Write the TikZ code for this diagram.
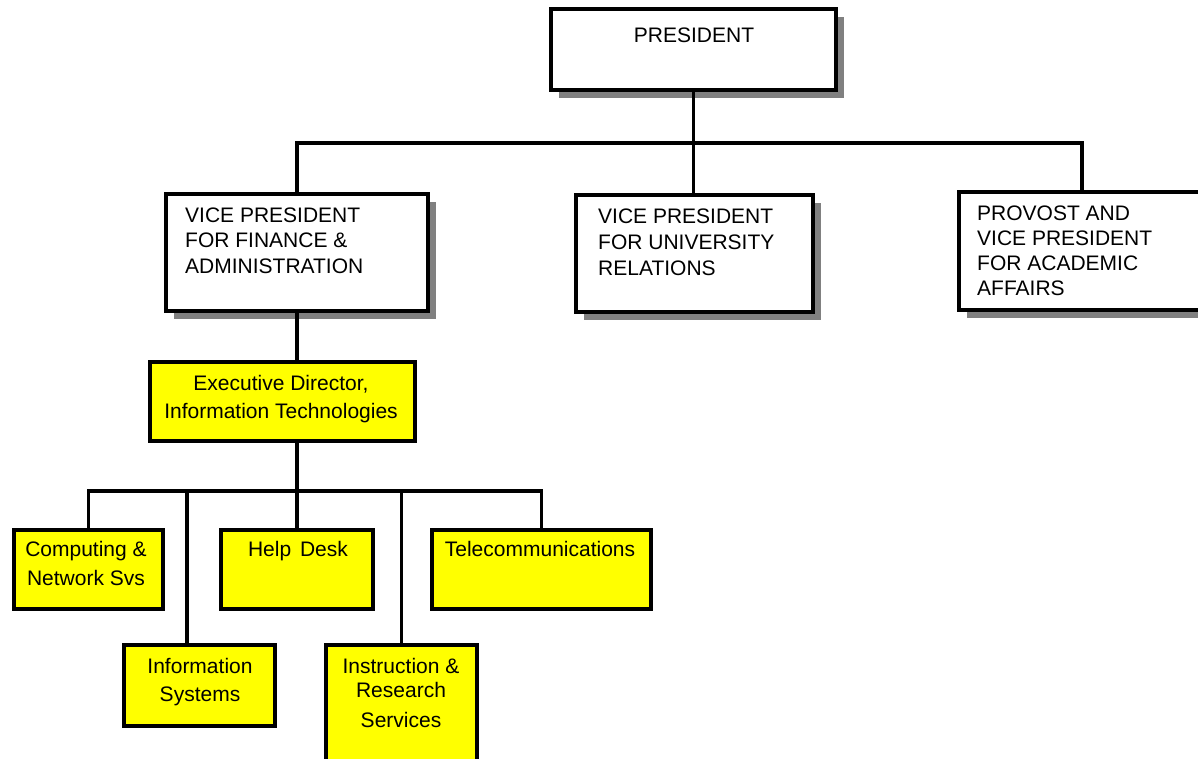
\documentclass[tikz,border=0pt]{standalone}
\usepackage{fontspec}
\setmainfont{Liberation Sans}
\usetikzlibrary{shadows}
\definecolor{shadowgrey}{HTML}{808080}
\definecolor{ityellow}{HTML}{FFFF00}
\begin{document}
\begin{tikzpicture}[x=1pt,y=-1pt,
  box/.style={draw=black, line width=4.2pt, inner sep=0pt, outer sep=0pt,
              anchor=north west, shape=rectangle},
  officebox/.style={box, fill=white,
              drop shadow={shadow xshift=8pt, shadow yshift=-8pt,
                           fill=shadowgrey, opacity=1}},
  unitbox/.style={box, fill=ityellow},
  link/.style={draw=black, line width=3.5pt},
  % multi-line labels are placed by the baseline of their last line
  leftlbl/.style={font=\fontsize{21}{25.5}\selectfont, inner sep=0pt,
              align=left, anchor=base west},
  midlbl/.style={font=\fontsize{21}{28}\selectfont, inner sep=0pt,
              align=center, anchor=base}
]
\useasboundingbox (0,0) rectangle (1198,758);
\clip (0,0) rectangle (1198,758);

% executive offices
\node[officebox, minimum width=285, minimum height=81] (pres) at (551,9) {};
\node[officebox, minimum width=262, minimum height=117] (vpf) at (166,194) {};
\node[officebox, minimum width=237, minimum height=117] (vpu) at (576,195) {};
\node[officebox, minimum width=246, minimum height=118] (prov) at (959,192) {};

% information technologies units
\node[unitbox, minimum width=265, minimum height=79] (exec) at (150,362) {};
\node[unitbox, minimum width=149, minimum height=79] (comp) at (14,530) {};
\node[unitbox, minimum width=152, minimum height=79] (help) at (221,530) {};
\node[unitbox, minimum width=219, minimum height=79] (tele) at (432,530) {};
\node[unitbox, minimum width=151, minimum height=81] (info) at (124,645) {};
\node[unitbox, minimum width=151, minimum height=155] (instr) at (326,645) {};

% reporting lines, upper level
\coordinate (busA) at (693.5,143);
\draw[link] (pres.south) -- (pres.south |- vpu.north);
\draw[link] (vpf.north) |- (busA) -| (prov.north);
\draw[link] (vpf.south) -- (vpf.south |- exec.north);

% reporting lines, IT level
\coordinate (busB) at (297,491);
\coordinate (infoJ) at (187,491);
\draw[link] (busB |- exec.south) -- (busB);
\draw[link] (comp.north) |- (busB) -| (tele.north);
\draw[link] (busB) -- (busB |- help.north);
\draw[link] (infoJ) -- (infoJ |- info.north);
\draw[link] (instr.north) -- (instr.north |- busB);

% labels
\node[midlbl] (presT) at (694,42) {PRESIDENT};
\node[leftlbl] (vpfT) at (185,273) {VICE PRESIDENT\\FOR FINANCE \&\\ADMINISTRATION};
\node[leftlbl, font=\fontsize{21}{26}\selectfont] (vpuT) at (598,275) {VICE PRESIDENT\\FOR UNIVERSITY\\RELATIONS};
\node[leftlbl, font=\fontsize{21}{25}\selectfont] (provT) at (977,295) {PROVOST AND\\VICE PRESIDENT\\FOR ACADEMIC\\AFFAIRS};
\node[midlbl] (execT) at (281,418) {Executive Director,\\Information Technologies};
\node[midlbl, font=\fontsize{21}{29}\selectfont] (compT) at (86,585) {Computing \&\\Network Svs};
\node[midlbl] (helpT) at (298,556) {Help\hspace{3pt} Desk};
\node[midlbl] (teleT) at (540,556) {Telecommunications};
\node[midlbl] (infoT) at (200,701) {Information\\Systems};
\node[midlbl, font=\fontsize{21}{25}\selectfont] (instrT) at (401,727) {Instruction \&\\[-1pt]Research\\[5pt]Services};
\end{tikzpicture}
\end{document}
